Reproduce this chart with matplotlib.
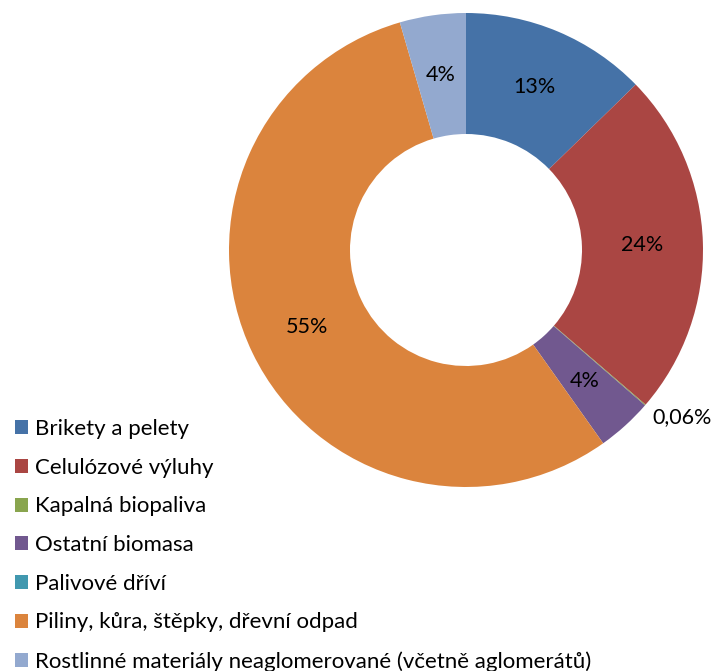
import numpy as np
import matplotlib
matplotlib.use("Agg")
import matplotlib.pyplot as plt

plt.rcParams['font.family'] = ['Lato', 'DejaVu Sans']

# data (percent of total)
categories = ['Brikety a pelety', 'Celulózové výluhy', 'Kapalná biopaliva',
              'Ostatní biomasa', 'Palivové dříví',
              'Piliny, kůra, štěpky, dřevní odpad',
              'Rostlinné materiály neaglomerované (včetně aglomerátů)']
values = [12.7, 23.6, 0.06, 3.8, 0.0, 55.3, 4.5]
pct_labels = ['13%', '24%', '0,06%', '4%', '', '55%', '4%']
colors = ['#4572A7', '#AA4643', '#89A54E', '#71588F', '#4198AF', '#DB843D', '#93A9CF']

W, H = 714, 671
fig = plt.figure(figsize=(W / 100, H / 100), dpi=100)
ax = fig.add_axes([0, 0, 1, 1])

cx, cy, R, ring = 466, H - 250, 237, 121
wedges, _ = ax.pie(values, colors=colors, startangle=90, counterclock=False,
                   center=(cx, cy), radius=R,
                   wedgeprops=dict(width=ring, linewidth=0))
ax.set_xlim(0, W)
ax.set_ylim(0, H)
ax.set_aspect('equal')
ax.axis('off')

# percentage labels in the middle of the ring, small slice outside
for w, lab in zip(wedges, pct_labels):
    if not lab:
        continue
    ang = np.deg2rad((w.theta1 + w.theta2) / 2)
    if lab == '0,06%':
        r = R + 30
        x, y = cx + r * np.cos(ang) + 14, cy + r * np.sin(ang) + 8
    else:
        r = R - ring / 2
        x, y = cx + r * np.cos(ang), cy + r * np.sin(ang)
    ax.text(x, y, lab, ha='center', va='center', fontsize=15.5, color='black')

leg = ax.legend(wedges, categories, loc='upper left',
                bbox_to_anchor=(4 / W, 1 - 408 / H), bbox_transform=fig.transFigure,
                frameon=False, fontsize=16, handlelength=0.58, handleheight=0.58,
                handletextpad=0.3, labelspacing=0.84, borderpad=0)

fig.savefig('out.png', dpi=100)
